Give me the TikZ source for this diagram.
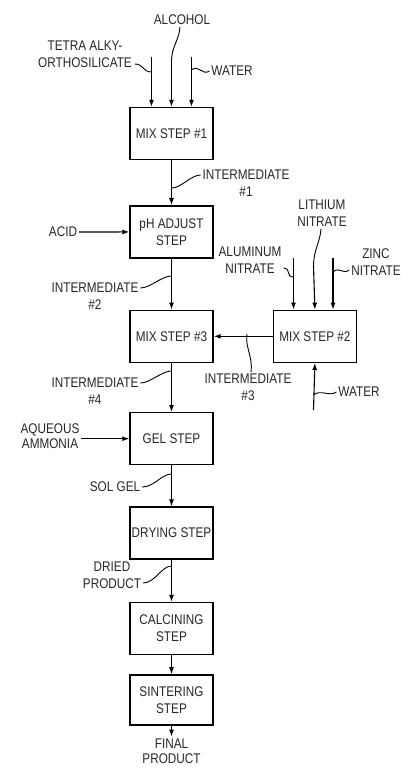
\documentclass[tikz,border=0pt]{standalone}
\usepackage{fontspec}
\setmainfont{Liberation Sans}[FakeStretch=0.84]
\usetikzlibrary{positioning, arrows.meta}

\begin{document}
\begin{tikzpicture}[
        x=1pt, y=-1pt,
        stepbox/.style={
            rectangle,
            draw,
            line width=1.4pt,
            minimum width=83pt,
            minimum height=52pt,
            inner sep=1pt,
            align=center,
            text=black!85,
            font=\fontsize{14}{17}\selectfont
        },
        lbl/.style={
            inner sep=0pt,
            outer sep=2pt,
            align=center,
            text=black!85,
            font=\fontsize{14}{17}\selectfont
        },
        tight/.style={
            font=\fontsize{14}{15}\selectfont
        },
        flow/.style={
            -{Latex[length=7pt,width=5pt]},
            line width=1.1pt
        },
        leaderline/.style={
            line width=0.9pt
        }
    ]
    \useasboundingbox (0,0) rectangle (405,768);

    % Process steps
    \node[stepbox] (mix1) at (171.5,133.5) {MIX STEP \#1};
    \node[stepbox, below=45pt of mix1] (ph) {pH ADJUST\\STEP};
    \node[stepbox, below=51pt of ph] (mix3) {MIX STEP \#3};
    \node[stepbox, right=59pt of mix3] (mix2) {MIX STEP \#2};
    \node[stepbox, below=49pt of mix3] (gel) {GEL STEP};
    \node[stepbox, below=41pt of gel] (dry) {DRYING STEP};
    \node[stepbox, below=42pt of dry] (calc) {CALCINING\\STEP};
    \node[stepbox, below=19pt of calc, minimum height=50pt] (sint) {SINTERING\\STEP};
    \node[lbl, tight, below=11pt of sint] (final) {FINAL\\PRODUCT};

    % Materials and intermediates
    \node[lbl] (alcohol) at (182,20) {ALCOHOL};
    \node[lbl] (tetra) at (85,54.5) {TETRA ALKY-\\ORTHOSILICATE};
    \node[lbl] (water1) at (232,71) {WATER};
    \node[lbl] (int1) at (246,183.5) {INTERMEDIATE\\\#1};
    \node[lbl] (acid) at (63,232) {ACID};
    \node[lbl] (int2) at (95,296.5) {INTERMEDIATE\\\#2};
    \node[lbl] (lithium) at (322,213.5) {LITHIUM\\NITRATE};
    \node[lbl] (alum) at (250,260) {ALUMINUM\\NITRATE};
    \node[lbl] (zinc) at (376,262.5) {ZINC\\NITRATE};
    \node[lbl] (int3) at (248,387.5) {INTERMEDIATE\\\#3};
    \node[lbl] (water2) at (359,392) {WATER};
    \node[lbl] (int4) at (95,391.5) {INTERMEDIATE\\\#4};
    \node[lbl, tight] (ammonia) at (50,436.5) {AQUEOUS\\AMMONIA};
    \node[lbl] (solgel) at (115,487) {SOL GEL};
    \node[lbl] (dried) at (112,575) {DRIED\\PRODUCT};

    % Feed points
    \coordinate (tetraTop) at (151.5,57);
    \coordinate (alcoholTop) at (171.5,62);
    \coordinate (waterTop) at (191.5,57);
    \coordinate (alumTop) at (293.5,258);
    \coordinate (lithTop) at (313.5,266);
    \coordinate (zincTop) at (333,258);
    \coordinate (waterBot) at (313.5,410);

    % Leader ends on the lines
    \coordinate (tl) at (151.5,72);
    \coordinate (wl) at (191.5,70);
    \coordinate (i1) at (171.5,188);
    \coordinate (i2) at (171.5,276);
    \coordinate (i3) at (247,334);
    \coordinate (i4) at (171.5,371);
    \coordinate (sg) at (171.5,474);
    \coordinate (dp) at (171.5,566);
    \coordinate (al) at (293.5,277);
    \coordinate (zl) at (333,272);
    \coordinate (w2) at (313.5,395);

    % Feeds
    \draw[flow] (tetraTop) -- (tetraTop |- mix1.north);
    \draw[flow] (alcoholTop) -- (mix1.north);
    \draw[flow] (waterTop) -- (waterTop |- mix1.north);
    \draw[flow] (acid) -- (ph);
    \draw[flow] (alumTop) -- (alumTop |- mix2.north);
    \draw[flow] (lithTop) -- (mix2.north);
    \draw[flow] (zincTop) -- (zincTop |- mix2.north);
    \draw[flow] (waterBot) -- (mix2.south);
    \draw[flow] (ammonia.east |- gel) -- (gel);

    % Main flow
    \draw[flow] (mix1) -- (ph);
    \draw[flow] (ph) -- (mix3);
    \draw[flow] (mix2) -- (mix3);
    \draw[flow] (mix3) -- (gel);
    \draw[flow] (gel) -- (dry);
    \draw[flow] (dry) -- (calc);
    \draw[flow] (calc) -- (sint);
    \draw[flow] (sint) -- (final);

    % Leaders
    \draw[leaderline] ([xshift=1pt,yshift=-9.5pt]tetra.east) .. controls +(9,0) and +(-9,0) .. (tl);
    \draw[leaderline] ([xshift=-2pt]alcohol.south) .. controls +(-1,14) and +(0,-16) .. (alcoholTop);
    \draw[leaderline] (wl) .. controls +(7,-6) and +(-7,5) .. (water1.west);
    \draw[leaderline] (i1) .. controls +(10,0) and +(-10,0) .. ([yshift=8.5pt]int1.west);
    \draw[leaderline] ([yshift=8.5pt]int2.east) .. controls +(10,0) and +(-10,0) .. (i2);
    \draw[leaderline] ([yshift=8.5pt]int4.east) .. controls +(10,0) and +(-10,0) .. (i4);
    \draw[leaderline] (i3) .. controls +(-2,14) and +(2,-16) .. ([xshift=3pt]int3.north);
    \draw[leaderline] (solgel.east) .. controls +(12,0) and +(-10,0) .. (sg);
    \draw[leaderline] ([yshift=-8pt]dried.east) .. controls +(12,0) and +(-10,0) .. (dp);
    \draw[leaderline] ([yshift=-8pt]alum.east) .. controls +(8,0) and +(-8,0) .. (al);
    \draw[leaderline] ([xshift=-1pt]lithium.south) .. controls +(-1,14) and +(0,-16) .. (lithTop);
    \draw[leaderline] (zl) .. controls +(7,-6) and +(-7,5) .. ([yshift=-7.5pt]zinc.west);
    \draw[leaderline] (w2) .. controls +(7,-6) and +(-7,5) .. (water2.west);

\end{tikzpicture}
\end{document}
